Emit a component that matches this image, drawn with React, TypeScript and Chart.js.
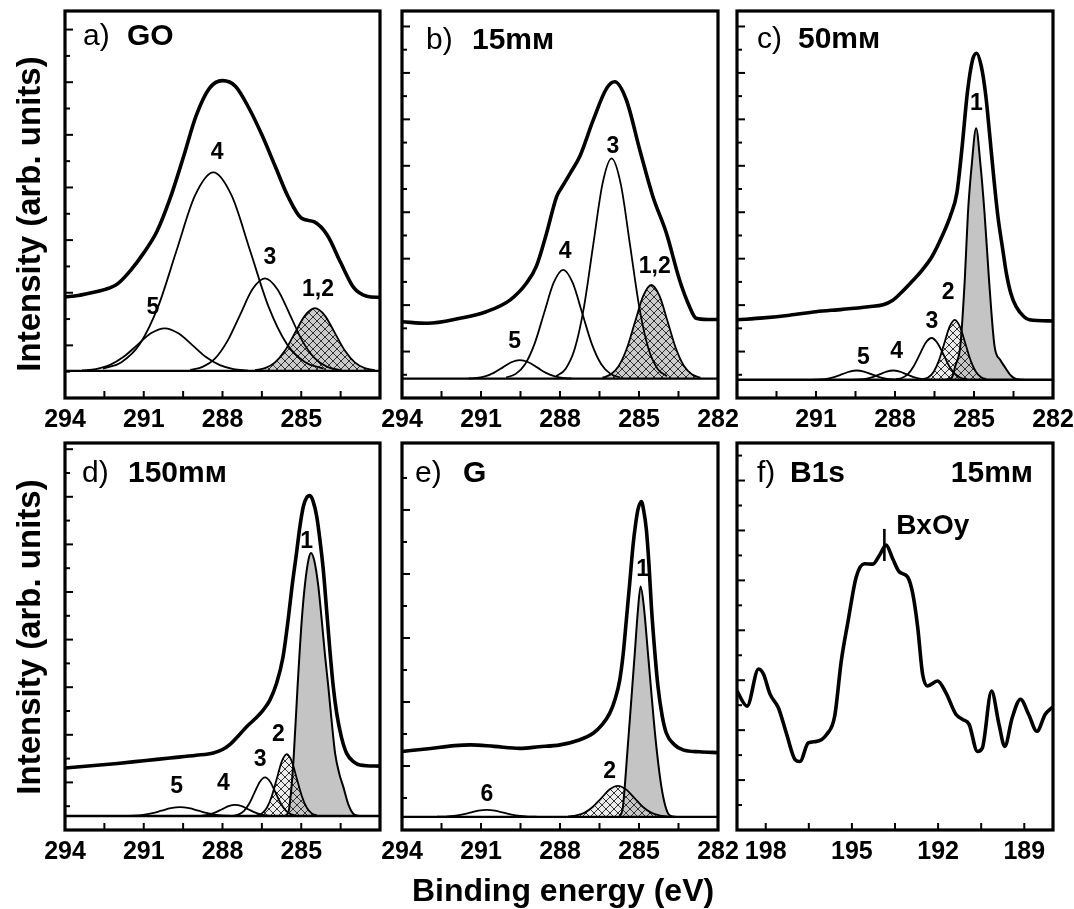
import React, { useEffect, useRef } from "react";
import { Chart, registerables } from "chart.js";

Chart.register(...registerables);

type Pt = [number, number];
type Tag = [string, number, number];

const FONT = '"Liberation Sans", Arial, Helvetica, sans-serif';

// ---------- axis values ----------
const C1S_RANGE: Pt = [282, 294];
const B1S_RANGE: Pt = [188, 199];
const C1S_TICKS = [292.5, 291, 289.5, 288, 286.5, 285, 283.5];
const C1S_LABELS_LEFT = [294, 291, 288, 285];
const C1S_LABELS_FULL = [294, 291, 288, 285, 282];
const C1S_LABELS_RIGHT = [291, 288, 285, 282];
const B1S_TICKS = [198, 196.5, 195, 193.5, 192, 190.5, 189];
const B1S_LABELS = [198, 195, 192, 189];

// ---------- a) GO ----------
const A_BASE = 7;
const A_ENVELOPE: Pt[] = [[294,26.1],[293.5,26.5],[293,27.2],[292.5,28],[292,29.5],[291.5,33],[291,37.5],[290.5,43],[290,51.5],[289.5,62],[289,73],[288.5,80],[288,82],[287.5,80.5],[287,75],[286.5,68],[286,60],[285.5,52],[285,46.5],[284.5,45.5],[284,42],[283.5,35],[283,28.5],[282.5,26.3],[282,26]];
const A_P5: Pt[] = [[293.35,7.12],[292.83,7.48],[292.3,8.49],[291.78,10.57],[291.25,13.67],[290.73,16.71],[290.2,18],[289.68,16.71],[289.15,13.67],[288.63,10.57],[288.1,8.49],[287.58,7.48],[287.05,7.12]];
const A_P4: Pt[] = [[292.55,7.57],[291.85,9.25],[291.15,13.94],[290.45,23.66],[289.75,38.11],[289.05,52.27],[288.35,58.3],[287.65,52.27],[286.95,38.11],[286.25,23.66],[285.55,13.94],[284.85,9.25],[284.15,7.57]];
const A_P3: Pt[] = [[289.23,7.27],[288.76,8.05],[288.28,10.23],[287.81,14.76],[287.33,21.5],[286.86,28.09],[286.38,30.9],[285.91,28.09],[285.43,21.5],[284.96,14.76],[284.48,10.23],[284.01,8.05],[283.53,7.27]];
const A_P12: Pt[] = [[286.76,7.18],[286.38,7.71],[286,9.19],[285.62,12.26],[285.24,16.83],[284.86,21.3],[284.48,23.2],[284.1,21.3],[283.72,16.83],[283.34,12.26],[282.96,9.19],[282.58,7.71],[282.2,7.18]];
const A_TAGS: Tag[] = [["5",290.65,23.3],["4",288.2,63.3],["3",286.19,36.2],["1,2",284.36,27.9]];

// ---------- b) 15 mM ----------
const B_BASE = 5;
const B_ENVELOPE: Pt[] = [[294,19.7],[293.05,19.3],[291.8,20.6],[290.8,22.3],[289.9,25.3],[289.27,29.7],[288.9,34],[288.51,42.6],[288.13,52],[287.88,55],[287.62,58],[287.25,62.4],[286.74,71.8],[286.23,80],[285.92,81.7],[285.48,77],[284.97,64.1],[284.47,52],[283.96,42.6],[283.46,30.5],[283.08,23.6],[282.83,20.6],[282.4,20.3],[282,20.3]];
const B_P5: Pt[] = [[291.47,5.05],[291.15,5.21],[290.82,5.65],[290.5,6.56],[290.17,7.91],[289.85,9.24],[289.52,9.8],[289.2,9.24],[288.87,7.91],[288.55,6.56],[288.22,5.65],[287.9,5.21],[287.57,5.05]];
const B_P4: Pt[] = [[290.04,5.31],[289.68,6.23],[289.32,8.8],[288.96,14.12],[288.6,22.04],[288.24,29.8],[287.88,33.1],[287.52,29.8],[287.16,22.04],[286.8,14.12],[286.44,8.8],[286.08,6.23],[285.72,5.31]];
const B_P3: Pt[] = [[288.14,5.63],[287.79,7.5],[287.44,12.7],[287.09,23.48],[286.74,39.51],[286.39,55.21],[286.04,61.9],[285.69,55.21],[285.34,39.51],[284.99,23.48],[284.64,12.7],[284.29,7.5],[283.94,5.63]];
const B_P12: Pt[] = [[286.39,5.27],[286.08,6.06],[285.77,8.27],[285.46,12.86],[285.15,19.68],[284.84,26.36],[284.53,29.2],[284.22,26.36],[283.91,19.68],[283.6,12.86],[283.29,8.27],[282.98,6.06],[282.67,5.27]];
const B_TAGS: Tag[] = [["5",289.72,14.5],["4",287.8,37.8],["3",285.99,64.9],["1,2",284.4,33.9]];

// ---------- c) 50 mM ----------
const C_BASE = 4.7;
const C_ENVELOPE: Pt[] = [[294,20.2],[293,20.7],[292,21.4],[291,22.3],[290,22.9],[289,23.6],[288.45,24.1],[288.1,25.2],[287.8,27],[287.4,29.8],[287,32.8],[286.6,36.5],[286.2,42],[285.9,47],[285.65,53],[285.45,65],[285.25,79],[285.05,87.5],[284.9,89.1],[284.72,85.6],[284.55,78],[284.41,68.4],[284.25,57],[284.09,46.8],[283.9,38],[283.77,32.2],[283.6,27],[283.4,23.6],[283.1,21],[282.9,20.2],[282,19.9]];
const C_P5: Pt[] = [[291.1,4.73],[290.83,4.81],[290.55,5.02],[290.28,5.48],[290,6.16],[289.73,6.82],[289.45,7.1],[289.18,6.82],[288.9,6.16],[288.63,5.48],[288.35,5.02],[288.08,4.81],[287.8,4.73]];
const C_P4: Pt[] = [[289.57,4.73],[289.32,4.81],[289.07,5.02],[288.82,5.48],[288.57,6.16],[288.32,6.82],[288.07,7.1],[287.82,6.82],[287.57,6.16],[287.32,5.48],[287.07,5.02],[286.82,4.81],[286.57,4.73]];
const C_P3: Pt[] = [[287.96,4.82],[287.74,5.17],[287.51,6.16],[287.29,8.21],[287.06,11.25],[286.84,14.23],[286.61,15.5],[286.39,14.23],[286.16,11.25],[285.94,8.21],[285.71,6.16],[285.49,5.17],[285.26,4.82]];
const C_P2: Pt[] = [[286.93,4.87],[286.73,5.38],[286.53,6.8],[286.33,9.73],[286.13,14.1],[285.93,18.38],[285.73,20.2],[285.53,18.38],[285.33,14.1],[285.13,9.73],[284.93,6.8],[284.73,5.38],[284.53,4.87]];
const C_P1: Pt[] = [[286.1,4.7],[285.85,5.2],[285.7,8.5],[285.52,13.4],[285.35,30.6],[285.23,47.8],[285.08,60.7],[284.92,69.7],[284.76,60.7],[284.6,47.8],[284.43,30.6],[284.22,13.4],[284,9.8],[283.84,8.1],[283.6,5.8],[283.4,4.9],[283.1,4.7]];
const C_TAGS: Tag[] = [["5",289.2,10.3],["4",287.94,12],["3",286.6,19.7],["2",285.98,27.1],["1",284.91,76.1]];

// ---------- d) 150 mM ----------
const D_BASE = 3.6;
const D_ENVELOPE: Pt[] = [[294,16],[293,16.6],[292,17.2],[291,17.9],[290,18.6],[289,19.3],[288.35,19.9],[288,20.8],[287.7,22.2],[287.4,24.3],[287.08,26.7],[286.75,28.8],[286.45,31],[286.2,33.5],[285.94,37.9],[285.7,44.5],[285.5,54.3],[285.35,63],[285.18,71.6],[285.05,78.5],[284.92,83.6],[284.8,85.8],[284.67,86.4],[284.55,85],[284.41,81],[284.28,74.5],[284.16,67.2],[284.03,56.5],[283.9,45.7],[283.78,37],[283.65,30.2],[283.47,24],[283.27,19.8],[283,17.6],[282.76,16.8],[282,16.5]];
const D_P5: Pt[] = [[291.72,3.63],[291.37,3.7],[291.02,3.91],[290.67,4.35],[290.32,4.99],[289.97,5.63],[289.62,5.9],[289.27,5.63],[288.92,4.99],[288.57,4.35],[288.22,3.91],[287.87,3.7],[287.52,3.63]];
const D_P4: Pt[] = [[289.02,3.63],[288.77,3.73],[288.52,3.99],[288.27,4.54],[288.02,5.36],[287.77,6.16],[287.52,6.5],[287.27,6.16],[287.02,5.36],[286.77,4.54],[286.52,3.99],[286.27,3.73],[286.02,3.63]];
const D_P3: Pt[] = [[287.58,3.71],[287.38,4.04],[287.18,4.95],[286.98,6.85],[286.78,9.67],[286.58,12.43],[286.38,13.6],[286.18,12.43],[285.98,9.67],[285.78,6.85],[285.58,4.95],[285.38,4.04],[285.18,3.71]];
const D_P2: Pt[] = [[286.69,3.78],[286.5,4.3],[286.31,5.76],[286.12,8.8],[285.93,13.3],[285.74,17.72],[285.55,19.6],[285.36,17.72],[285.17,13.3],[284.98,8.8],[284.79,5.76],[284.6,4.3],[284.41,3.78]];
const D_P1: Pt[] = [[285.65,3.6],[285.49,4.6],[285.37,11.2],[285.28,19.8],[285.14,37.1],[284.98,54.3],[284.85,64],[284.72,70],[284.63,71.6],[284.5,69.5],[284.35,63],[284.22,54.3],[284.1,45.5],[283.97,37.1],[283.84,28],[283.71,19.8],[283.55,14.5],[283.4,11.2],[283.2,6.5],[283.02,4.2],[282.8,3.6]];
const D_TAGS: Tag[] = [["5",289.75,11.2],["4",287.97,12.1],["3",286.57,18.1],["2",285.87,24.6],["1",284.79,74.6]];

// ---------- e) G ----------
const E_BASE = 3.4;
const E_ENVELOPE: Pt[] = [[294,20.3],[293,21],[292,21.8],[291.41,22],[290.5,21.6],[289.52,21.1],[288.8,21.5],[288,22],[287.3,23.2],[286.74,25],[286.4,27.2],[286.11,30.2],[285.9,34],[285.73,38.8],[285.6,45.5],[285.48,54.3],[285.35,64],[285.23,73.3],[285.12,79.5],[285.04,82.8],[284.91,84.9],[284.82,82.5],[284.72,77.6],[284.62,68.5],[284.53,57.8],[284.4,46],[284.28,37.1],[284.12,29.5],[283.96,25],[283.65,22],[283.33,20.7],[282.7,20.2],[282,20]];
const E_P6: Pt[] = [[292.67,3.42],[292.36,3.48],[292.04,3.64],[291.73,3.98],[291.41,4.49],[291.1,4.99],[290.78,5.2],[290.47,4.99],[290.15,4.49],[289.84,3.98],[289.52,3.64],[289.21,3.48],[288.89,3.42]];
const E_P2: Pt[] = [[287.69,3.49],[287.38,3.75],[287.06,4.48],[286.75,6],[286.43,8.25],[286.12,10.46],[285.8,11.4],[285.49,10.46],[285.17,8.25],[284.86,6],[284.54,4.48],[284.23,3.75],[283.91,3.49]];
const E_P1: Pt[] = [[285.75,3.4],[285.62,5.5],[285.54,11.2],[285.45,19.5],[285.35,28.4],[285.25,37.5],[285.16,45.7],[285.05,56],[284.94,62.9],[284.82,58],[284.66,45.7],[284.55,37],[284.44,28.4],[284.3,19],[284.15,11.2],[284,6.2],[283.84,3.8],[283.6,3.4]];
const E_TAGS: Tag[] = [["6",290.78,9.05],["2",286.11,15.1],["1",284.86,67.2]];

// ---------- f) B1s 15 mM ----------
const F_SPECTRUM: Pt[] = [[199,35.9],[198.65,32],[198.25,41.6],[198.08,40.3],[197.85,35.1],[197.56,31.6],[197.27,24.7],[196.98,18.2],[196.81,17.7],[196.52,22.5],[196.23,22.9],[195.88,24.7],[195.6,29.4],[195.37,43.7],[195.13,54.1],[194.85,65.4],[194.56,68.8],[194.27,68.7],[194.04,71],[193.81,73.6],[193.58,70.1],[193.35,66.7],[193.06,65.4],[192.88,61],[192.71,52.4],[192.54,40.3],[192.37,37.2],[192.02,38.5],[191.73,35.5],[191.38,29.9],[191.15,28.6],[190.92,27.3],[190.63,20.3],[190.46,21.2],[190.14,35.9],[189.88,27.3],[189.68,21.6],[189.42,29],[189.13,33.8],[188.85,29.9],[188.56,25.5],[188.27,29.9],[188.04,31.6]];
const F_MARKER: Pt[] = [[193.87,69.5],[193.87,77.8]];
const F_TAGS: Tag[] = [];
const F_PEAK_TAG: Tag = ["BxOy", 193.46, 78.5];

interface PanelCfg {
  frame: [number, number, number, number];
  range: Pt;
  base?: number;
  envelope: Pt[];
  lines: Pt[][];
  hatched?: Pt[];
  gray?: Pt[];
  hatchBg: string;
  marker?: Pt[];
  peakTag?: Tag;
  tags: Tag[];
  xTicks: number[];
  xLabels: number[];
  yStep: number;
  prefix: string;
  prefixDx: number;
  title: string;
  titleDx: number;
  titleDy: number;
  extra?: string;
}

const PANELS: PanelCfg[] = [
  { frame: [65, 11, 380, 398], range: C1S_RANGE, base: A_BASE, envelope: A_ENVELOPE, lines: [A_P5, A_P4, A_P3], hatched: A_P12, hatchBg: "#cbcbcb", tags: A_TAGS, xTicks: C1S_TICKS, xLabels: C1S_LABELS_LEFT, yStep: 6.8, prefix: "a)", prefixDx: 18, title: "GO", titleDx: 62, titleDy: 34 },
  { frame: [402, 11, 718, 398], range: C1S_RANGE, base: B_BASE, envelope: B_ENVELOPE, lines: [B_P5, B_P4, B_P3], hatched: B_P12, hatchBg: "#cbcbcb", tags: B_TAGS, xTicks: C1S_TICKS, xLabels: C1S_LABELS_FULL, yStep: 6.0, prefix: "b)", prefixDx: 24, title: "15mм", titleDx: 70, titleDy: 38 },
  { frame: [737, 11, 1053, 398], range: C1S_RANGE, base: C_BASE, envelope: C_ENVELOPE, lines: [C_P5, C_P4, C_P3], hatched: C_P2, gray: C_P1, hatchBg: "rgba(200,200,200,0.35)", tags: C_TAGS, xTicks: C1S_TICKS, xLabels: C1S_LABELS_RIGHT, yStep: 6.0, prefix: "c)", prefixDx: 20, title: "50mм", titleDx: 61, titleDy: 37 },
  { frame: [65, 443, 380, 830], range: C1S_RANGE, base: D_BASE, envelope: D_ENVELOPE, lines: [D_P5, D_P4, D_P3], hatched: D_P2, gray: D_P1, hatchBg: "rgba(200,200,200,0.35)", tags: D_TAGS, xTicks: C1S_TICKS, xLabels: C1S_LABELS_LEFT, yStep: 6.15, prefix: "d)", prefixDx: 17, title: "150mм", titleDx: 63, titleDy: 39 },
  { frame: [402, 443, 718, 830], range: C1S_RANGE, base: E_BASE, envelope: E_ENVELOPE, lines: [E_P6], hatched: E_P2, gray: E_P1, hatchBg: "rgba(200,200,200,0.35)", tags: E_TAGS, xTicks: C1S_TICKS, xLabels: C1S_LABELS_FULL, yStep: 8.27, prefix: "e)", prefixDx: 13, title: "G", titleDx: 61, titleDy: 39 },
  { frame: [737, 443, 1053, 830], range: B1S_RANGE, envelope: F_SPECTRUM, lines: [], hatchBg: "#cbcbcb", marker: F_MARKER, peakTag: F_PEAK_TAG, tags: F_TAGS, xTicks: B1S_TICKS, xLabels: B1S_LABELS, yStep: 6.45, prefix: "f)", prefixDx: 20, title: "B1s", titleDx: 53, titleDy: 39, extra: "15mм" },
];

const PAD_L = 24, PAD_R = 24, PAD_T = 6, PAD_B = 44;

function makeHatch(bg: string): CanvasPattern | string {
  const c = document.createElement("canvas");
  c.width = 8;
  c.height = 8;
  const g = c.getContext("2d");
  if (!g) return bg;
  g.fillStyle = bg;
  g.fillRect(0, 0, 8, 8);
  g.strokeStyle = "#333";
  g.lineWidth = 1;
  g.beginPath();
  g.moveTo(-1, -1); g.lineTo(9, 9);
  g.moveTo(9, -1); g.lineTo(-1, 9);
  g.stroke();
  return g.createPattern(c, "repeat") || bg;
}

const toXY = (pts: Pt[]) => pts.map(([x, y]) => ({ x, y }));

function Panel({ cfg }: { cfg: PanelCfg }) {
  const ref = useRef<HTMLCanvasElement>(null);
  const [L, T, R, B] = cfg.frame;
  const width = R - L + PAD_L + PAD_R;
  const height = B - T + PAD_T + PAD_B;

  useEffect(() => {
    const canvas = ref.current;
    if (!canvas) return;
    const [xMin, xMax] = cfg.range;
    const thin = { borderColor: "#000", borderWidth: 1.8, pointRadius: 0, fill: false, cubicInterpolationMode: "monotone" as const };
    const datasets: any[] = [];
    datasets.push({ label: "envelope", data: toXY(cfg.envelope), borderColor: "#000", borderWidth: 3.6, pointRadius: 0, fill: false, cubicInterpolationMode: "monotone", borderJoinStyle: "round", borderCapStyle: "round" });
    if (cfg.marker) datasets.push({ label: "marker", data: toXY(cfg.marker), borderColor: "#000", borderWidth: 2.6, pointRadius: 0, fill: false, tension: 0 });
    cfg.lines.forEach((ln, i) => datasets.push({ ...thin, label: "peak" + i, data: toXY(ln) }));
    if (cfg.hatched) datasets.push({ ...thin, label: "hatched", data: toXY(cfg.hatched), fill: { value: cfg.base }, backgroundColor: makeHatch(cfg.hatchBg) });
    if (cfg.gray) datasets.push({ ...thin, borderWidth: 2, label: "gray", data: toXY(cfg.gray), fill: { value: cfg.base }, backgroundColor: "#c4c4c4" });
    if (cfg.base !== undefined) datasets.push({ label: "baseline", data: toXY([[xMax, cfg.base], [xMin, cfg.base]]), borderColor: "#000", borderWidth: 2.4, pointRadius: 0, fill: false, tension: 0 });

    const decor = {
      id: "decor",
      afterDraw(chart: any) {
        const { ctx, chartArea: a, scales } = chart;
        const xs = scales.x, ys = scales.y;
        ctx.save();
        ctx.strokeStyle = "#000";
        ctx.fillStyle = "#000";
        ctx.lineWidth = 2;
        for (const t of cfg.xTicks) {
          const px = xs.getPixelForValue(t);
          ctx.beginPath();
          ctx.moveTo(px, a.bottom);
          ctx.lineTo(px, a.bottom - 7);
          ctx.stroke();
        }
        let k = 1;
        for (let v = cfg.yStep; v < 99; v += cfg.yStep, k++) {
          const py = ys.getPixelForValue(v);
          const len = k % 2 === 0 ? 8 : 5;
          ctx.beginPath();
          ctx.moveTo(a.left, py);
          ctx.lineTo(a.left + len, py);
          ctx.stroke();
        }
        ctx.lineWidth = 3.2;
        ctx.strokeRect(a.left, a.top, a.right - a.left, a.bottom - a.top);

        ctx.textAlign = "center";
        ctx.textBaseline = "alphabetic";
        ctx.font = `bold 25px ${FONT}`;
        for (const t of cfg.xLabels) ctx.fillText(String(t), xs.getPixelForValue(t), a.bottom + 29);

        ctx.textBaseline = "middle";
        ctx.font = `bold 23px ${FONT}`;
        for (const [s, e, v] of cfg.tags) ctx.fillText(s, xs.getPixelForValue(e), ys.getPixelForValue(v));
        if (cfg.peakTag) {
          const [s, e, v] = cfg.peakTag;
          ctx.textAlign = "left";
          ctx.font = `bold 28px ${FONT}`;
          ctx.fillText(s, xs.getPixelForValue(e), ys.getPixelForValue(v));
        }

        ctx.textAlign = "left";
        ctx.textBaseline = "alphabetic";
        ctx.font = `30px ${FONT}`;
        ctx.fillText(cfg.prefix, a.left + cfg.prefixDx, a.top + cfg.titleDy);
        ctx.font = `bold 30px ${FONT}`;
        ctx.fillText(cfg.title, a.left + cfg.titleDx, a.top + cfg.titleDy);
        if (cfg.extra) {
          ctx.textAlign = "right";
          ctx.fillText(cfg.extra, a.right - 20, a.top + cfg.titleDy);
        }
        ctx.restore();
      },
    };

    const chart = new Chart(canvas, {
      type: "line",
      data: { datasets },
      options: {
        animation: false,
        responsive: false,
        devicePixelRatio: 1,
        events: [],
        layout: { padding: { left: PAD_L, right: PAD_R, top: PAD_T, bottom: PAD_B } },
        scales: {
          x: { type: "linear", min: xMin, max: xMax, reverse: true, display: false },
          y: { type: "linear", min: 0, max: 100, display: false },
        },
        plugins: {
          legend: { display: false },
          tooltip: { enabled: false },
          filler: { propagate: false, drawTime: "beforeDatasetsDraw" },
        } as any,
      },
      plugins: [decor],
    } as any);
    return () => chart.destroy();
  }, [cfg]);

  return (
    <canvas
      ref={ref}
      width={width}
      height={height}
      style={{ position: "absolute", left: L - PAD_L, top: T - PAD_T, width, height }}
    />
  );
}

export default function App() {
  const titleStyle: React.CSSProperties = {
    position: "absolute",
    font: `bold 33px ${FONT}`,
    lineHeight: 1,
    whiteSpace: "nowrap",
    color: "#000",
  };
  return (
    <div style={{ position: "fixed", left: 0, top: 0, width: 1074, height: 909, background: "#fff", overflow: "hidden" }}>
      {PANELS.map((p, i) => (
        <Panel key={i} cfg={p} />
      ))}
      <div style={{ ...titleStyle, left: 28, top: 214, transform: "translate(-50%,-50%) rotate(-90deg)" }}>Intensity (arb. units)</div>
      <div style={{ ...titleStyle, left: 28, top: 637, transform: "translate(-50%,-50%) rotate(-90deg)" }}>Intensity (arb. units)</div>
      <div style={{ ...titleStyle, fontSize: 32, left: 563, top: 874, transform: "translateX(-50%)" }}>Binding energy (eV)</div>
    </div>
  );
}
